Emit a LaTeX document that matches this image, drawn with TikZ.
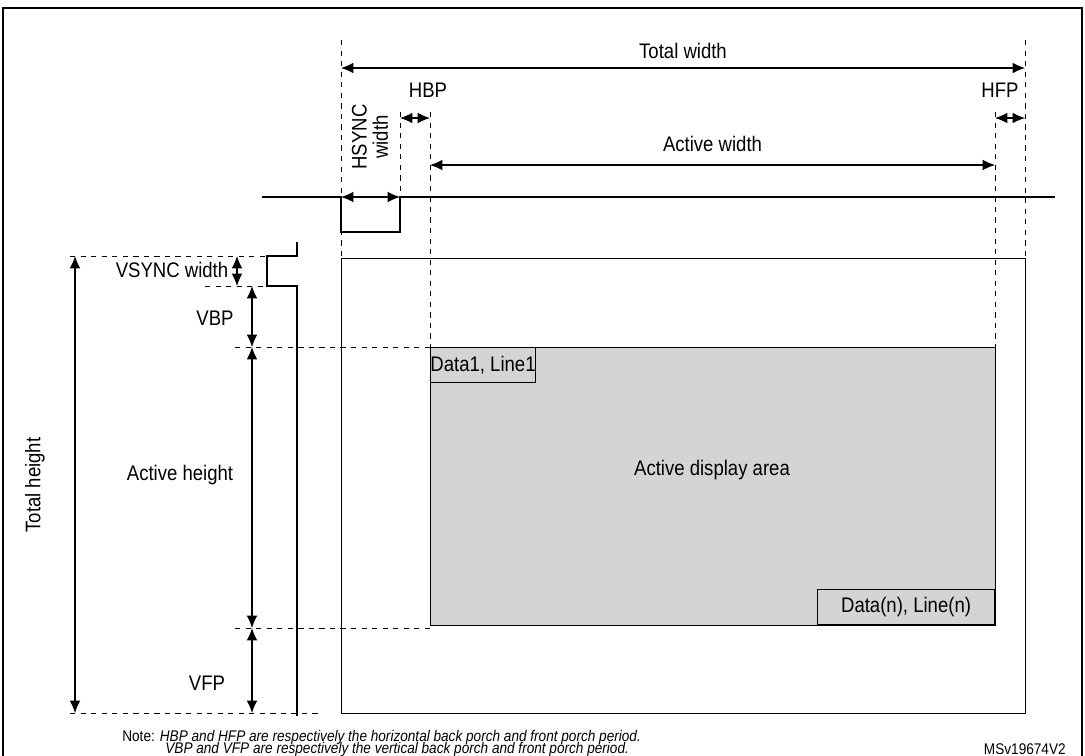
\documentclass[tikz,border=0pt]{standalone}
\usepackage{fontspec}
\setmainfont{Liberation Sans}[FakeStretch=0.88]
\usetikzlibrary{arrows.meta}
\tikzset{
  dim/.style={{Latex[length=7pt,width=6pt]}-{Latex[length=7pt,width=6pt]}, line width=0.6pt},
  guide/.style={dashed, line width=0.5pt},
  signal/.style={line width=1.3pt},
  lbl/.style={font=\fontsize{12}{14}\selectfont, inner sep=1pt},
  tag/.style={draw, line width=0.5pt, font=\fontsize{12}{14}\selectfont, inner sep=0pt, minimum height=0.7cm},
  note/.style={font=\fontsize{8.8}{10}\selectfont, inner sep=0pt},
}
\begin{document}
\begin{tikzpicture}[x=0.02cm, y=-0.02cm]
\useasboundingbox (0,0) rectangle (1085,755);
% frame
\draw[line width=1.2pt] (3,770) -- (3,8) -- (1082,8) -- (1082,770);
% horizontal reference points
\coordinate (tl) at (341,68);
\coordinate (tr) at (1025,68);
\coordinate (bpl) at (400,118);
\coordinate (bpr) at (430,118);
\coordinate (fpl) at (995,118);
\coordinate (fpr) at (1025,118);
\coordinate (awl) at (430,165);
\coordinate (awr) at (995,165);
\coordinate (hsl) at (341,197);
\coordinate (hsr) at (400,197);
% vertical reference points
\coordinate (th) at (75,256);
\coordinate (bh) at (75,713);
\coordinate (vs1) at (237,256);
\coordinate (vs2) at (237,286);
\coordinate (vb1) at (252,286);
\coordinate (vb2) at (252,347);
\coordinate (ah2) at (252,628);
\coordinate (vf2) at (252,713);
% dashed guides
\draw[guide] (341,40) -- (341,258);
\draw[guide] (1025,40) -- (1025,258);
\draw[guide] (430,112) -- (430,628);
\draw[guide] (995,112) -- (995,347);
\draw[guide] (400,112) -- (400,197);
\draw[guide] (70,256) -- (267,256);
\draw[guide] (205,286) -- (267,286);
\draw[guide] (235,347) -- (430,347);
\draw[guide] (235,628) -- (430,628);
\draw[guide] (70,713) -- (320,713);
% sync signals
\draw[signal] (262,197) -- (341,197) -- (341,232) -- (400,232) -- (400,197) -- (1055,197);
\draw[signal] (297,242) -- (297,256) -- (267,256) -- (267,286) -- (297,286) -- (297,716);
% display area
\draw[line width=0.5pt] (341,258) rectangle (1025,713);
\draw[fill=black!17, line width=0.5pt] (430,347) rectangle (995,625);
\node[tag, anchor=north west, minimum width=1.96cm] (first) at (430,347) {Data1, Line1};
\node[tag, anchor=south east, minimum width=3.54cm] (last) at (995,625) {Data(n), Line(n)};
\node[lbl] (area) at (712,470) {Active display area};
% dimensions
\draw[dim] (tl) -- (tr) node[lbl, midway, above=4pt] (tw) {Total width};
\draw[dim] (bpl) -- (bpr);
\node[lbl] (hbp) at (428,90) {HBP};
\draw[dim] (fpl) -- (fpr);
\node[lbl] (hfp) at (1000,90) {HFP};
\draw[dim] (awl) -- (awr) node[lbl, midway, above=6pt] (aw) {Active width};
\draw[dim] (hsl) -- (hsr);
\node[lbl, rotate=90, align=center, font=\fontsize{12}{12}\selectfont] (hsw) at (370,137) {HSYNC\\width};
\draw[dim] (th) -- (bh);
\node[lbl, rotate=90] (tht) at (35,485) {Total height};
\draw[dim] (vs1) -- (vs2);
\node[lbl] (vsw) at (172,270) {VSYNC width};
\draw[dim] (vb1) -- (vb2);
\node[lbl] (vbp) at (215,318) {VBP};
\draw[dim] (vb2) -- (ah2);
\node[lbl] (aht) at (180,475) {Active height};
\draw[dim] (ah2) -- (vf2);
\node[lbl] (vfp) at (207,683) {VFP};
% notes
\node[note, anchor=west] (n1) at (122,737) {Note: \textit{HBP and HFP are respectively the horizontal back porch and front porch period.}};
\node[note, anchor=west] (n2) at (165,749) {\textit{VBP and VFP are respectively the vertical back porch and front porch period.}};
\node[note, anchor=east] (id) at (1066,749) {MSv19674V2};
\end{tikzpicture}
\end{document}
